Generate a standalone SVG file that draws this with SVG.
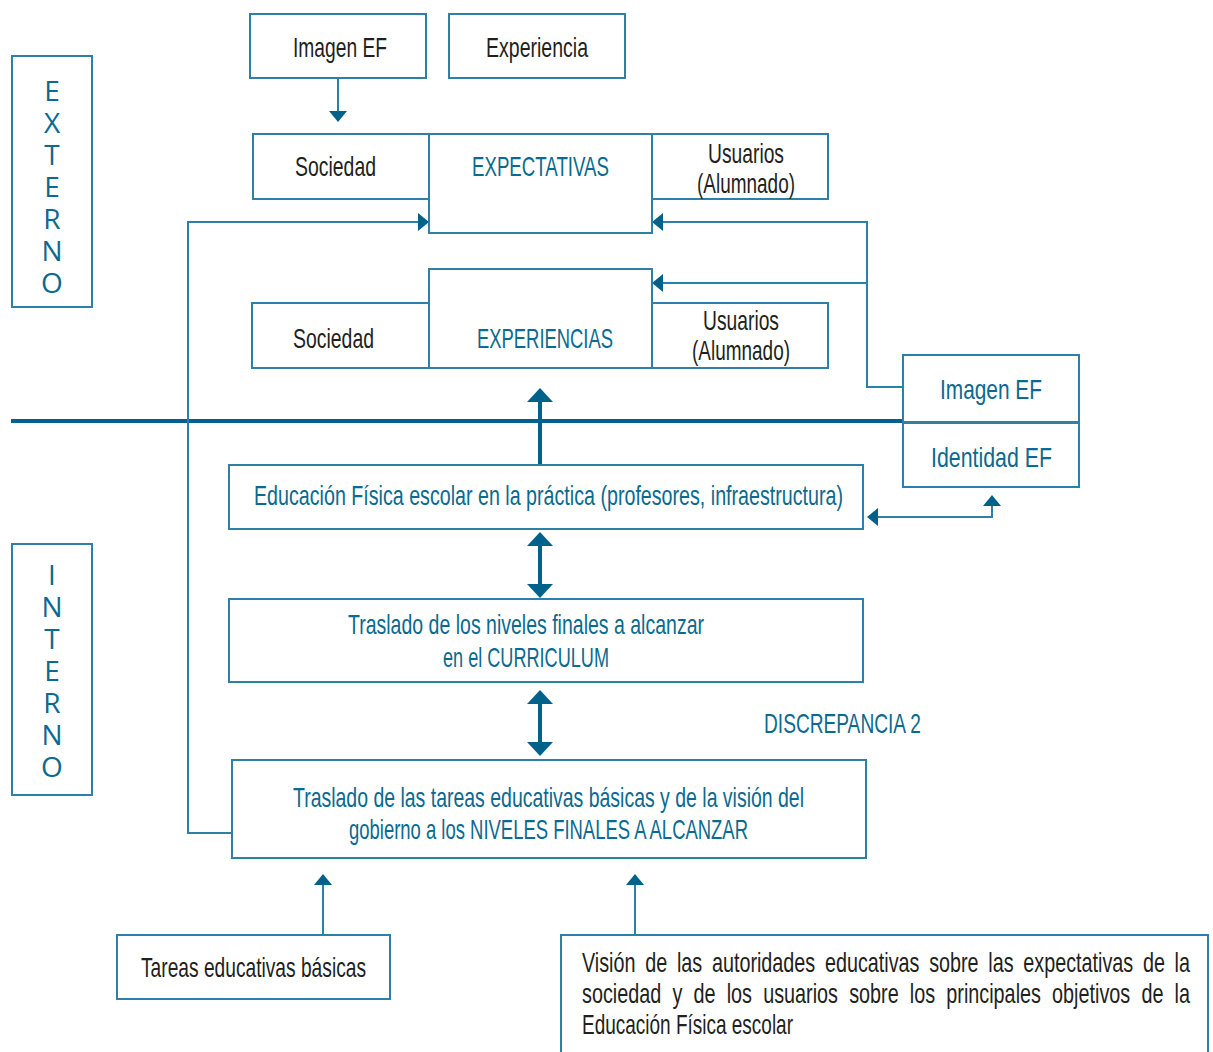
<svg xmlns="http://www.w3.org/2000/svg" width="1213" height="1052" viewBox="0 0 1213 1052">
<style>
.box{fill:#ffffff;stroke:#2f80a6;stroke-width:2}
.t{font-family:'Liberation Sans Narrow','Liberation Sans',Arial,sans-serif;font-size:28px;fill:#231f20}
.tb{font-family:'Liberation Sans Narrow','Liberation Sans',Arial,sans-serif;font-size:28px;fill:#0b6a8f}
.side{font-family:'Open Sans','Liberation Sans',Arial,sans-serif;font-size:28px;fill:#0b6a8f;text-anchor:middle}
.thin{fill:none;stroke:#2f80a6;stroke-width:2}
.thick{fill:none;stroke:#00628a;stroke-width:4}
</style>
<defs>
<marker id="ah" viewBox="0 0 11 18" refX="0" refY="9" markerWidth="11" markerHeight="18" markerUnits="userSpaceOnUse" orient="auto-start-reverse">
<path d="M0,0 L11,9 L0,18 Z" fill="#00628a"/>
</marker>
<marker id="ahT" viewBox="0 0 14 26" refX="0" refY="13" markerWidth="14" markerHeight="26" markerUnits="userSpaceOnUse" orient="auto-start-reverse">
<path d="M0,0 L14,13 L0,26 Z" fill="#00628a"/>
</marker>
</defs>

<g id="externo">
<rect class="box" x="12" y="56" width="80" height="251"/>
<text class="side" x="52" y="101">E</text>
<text class="side" x="52" y="133">X</text>
<text class="side" x="52" y="165">T</text>
<text class="side" x="52" y="197">E</text>
<text class="side" x="52" y="229">R</text>
<text class="side" x="52" y="261">N</text>
<text class="side" x="52" y="293">O</text>
</g>
<g id="interno">
<rect class="box" x="12" y="544" width="80" height="251"/>
<text class="side" x="52" y="585">I</text>
<text class="side" x="52" y="617">N</text>
<text class="side" x="52" y="649">T</text>
<text class="side" x="52" y="681">E</text>
<text class="side" x="52" y="713">R</text>
<text class="side" x="52" y="745">N</text>
<text class="side" x="52" y="777">O</text>
</g>

<g id="connectors">
<line x1="11" y1="421" x2="1080" y2="421" stroke="#00628a" stroke-width="4"/>
<path class="thin" d="M338,78 V111" marker-end="url(#ah)"/>
<path class="thin" d="M232,833 H188 V222 H418" marker-end="url(#ah)"/>
<path class="thin" d="M903,387 H867 V222 H663" marker-end="url(#ah)"/>
<path class="thin" d="M867,283 H663" marker-end="url(#ah)"/>
<path class="thick" d="M540,465 V402" marker-end="url(#ahT)"/>
<path class="thick" d="M540,546 V584" marker-start="url(#ahT)" marker-end="url(#ahT)"/>
<path class="thick" d="M540,704 V742" marker-start="url(#ahT)" marker-end="url(#ahT)"/>
<path class="thin" d="M878,517 H992 V506" marker-start="url(#ah)" marker-end="url(#ah)"/>
<path class="thin" d="M323,935 V885" marker-end="url(#ah)"/>
<path class="thin" d="M635,935 V885" marker-end="url(#ah)"/>
</g>

<g id="imagen-ef-top">
<rect class="box" x="250" y="14" width="176" height="64"/>
<text class="t" x="293" y="57" textLength="94" lengthAdjust="spacingAndGlyphs">Imagen EF</text>
</g>
<g id="experiencia">
<rect class="box" x="449" y="14" width="176" height="64"/>
<text class="t" x="486" y="57" textLength="102" lengthAdjust="spacingAndGlyphs">Experiencia</text>
</g>

<g id="sociedad-1">
<rect class="box" x="253" y="134" width="176" height="65"/>
<text class="t" x="295" y="176" textLength="81" lengthAdjust="spacingAndGlyphs">Sociedad</text>
</g>
<g id="usuarios-1">
<rect class="box" x="652" y="134" width="176" height="65"/>
<text class="t" x="708" y="163" textLength="76" lengthAdjust="spacingAndGlyphs">Usuarios</text>
<text class="t" x="697" y="193" font-size="24" textLength="98" lengthAdjust="spacingAndGlyphs">(Alumnado)</text>
</g>
<g id="expectativas">
<rect class="box" x="429" y="134" width="223" height="99"/>
<text class="tb" x="472" y="176" font-size="29" textLength="137" lengthAdjust="spacingAndGlyphs">EXPECTATIVAS</text>
</g>

<g id="sociedad-2">
<rect class="box" x="252" y="303" width="177" height="65"/>
<text class="t" x="293" y="348" textLength="81" lengthAdjust="spacingAndGlyphs">Sociedad</text>
</g>
<g id="usuarios-2">
<rect class="box" x="652" y="303" width="176" height="65"/>
<text class="t" x="703" y="330" textLength="76" lengthAdjust="spacingAndGlyphs">Usuarios</text>
<text class="t" x="692" y="360" font-size="24" textLength="98" lengthAdjust="spacingAndGlyphs">(Alumnado)</text>
</g>
<g id="experiencias">
<rect class="box" x="429" y="269" width="223" height="99"/>
<text class="tb" x="477" y="348" font-size="29" textLength="136" lengthAdjust="spacingAndGlyphs">EXPERIENCIAS</text>
</g>

<g id="imagen-ef-right">
<rect class="box" x="903" y="355" width="176" height="67"/>
<text class="tb" x="940" y="399" font-size="30" textLength="102" lengthAdjust="spacingAndGlyphs">Imagen EF</text>
</g>
<g id="identidad-ef">
<rect class="box" x="903" y="423" width="176" height="64"/>
<text class="tb" x="931" y="467" font-size="30" textLength="121" lengthAdjust="spacingAndGlyphs">Identidad EF</text>
</g>

<g id="educacion-practica">
<rect class="box" x="229" y="465" width="634" height="64"/>
<text class="tb" x="254" y="505" textLength="589" lengthAdjust="spacingAndGlyphs">Educación Física escolar en la práctica (profesores, infraestructura)</text>
</g>

<g id="curriculum">
<rect class="box" x="229" y="599" width="634" height="83"/>
<text class="tb" x="348" y="634" textLength="356" lengthAdjust="spacingAndGlyphs">Traslado de los niveles finales a alcanzar</text>
<text class="tb" x="443" y="667" textLength="166" lengthAdjust="spacingAndGlyphs">en el CURRICULUM</text>
</g>

<g id="discrepancia">
<text class="tb" x="764" y="733" font-size="29" textLength="157" lengthAdjust="spacingAndGlyphs">DISCREPANCIA 2</text>
</g>

<g id="niveles-finales">
<rect class="box" x="232" y="760" width="634" height="98"/>
<text class="tb" x="293" y="807" textLength="511" lengthAdjust="spacingAndGlyphs">Traslado de las tareas educativas básicas y de la visión del</text>
<text class="tb" x="349" y="839" textLength="399" lengthAdjust="spacingAndGlyphs">gobierno a los NIVELES FINALES A ALCANZAR</text>
</g>

<g id="tareas">
<rect class="box" x="117" y="935" width="273" height="64"/>
<text class="t" x="141" y="977" textLength="225" lengthAdjust="spacingAndGlyphs">Tareas educativas básicas</text>
</g>

<g id="vision">
<rect class="box" x="561" y="935" width="647" height="130"/>
<text class="t" x="582" y="972" textLength="608" lengthAdjust="spacingAndGlyphs" word-spacing="6">Visión de las autoridades educativas sobre las expectativas de la</text>
<text class="t" x="582" y="1003" textLength="608" lengthAdjust="spacingAndGlyphs" word-spacing="8">sociedad y de los usuarios sobre los principales objetivos de la</text>
<text class="t" x="582" y="1034" textLength="211" lengthAdjust="spacingAndGlyphs">Educación Física escolar</text>
</g>
</svg>
